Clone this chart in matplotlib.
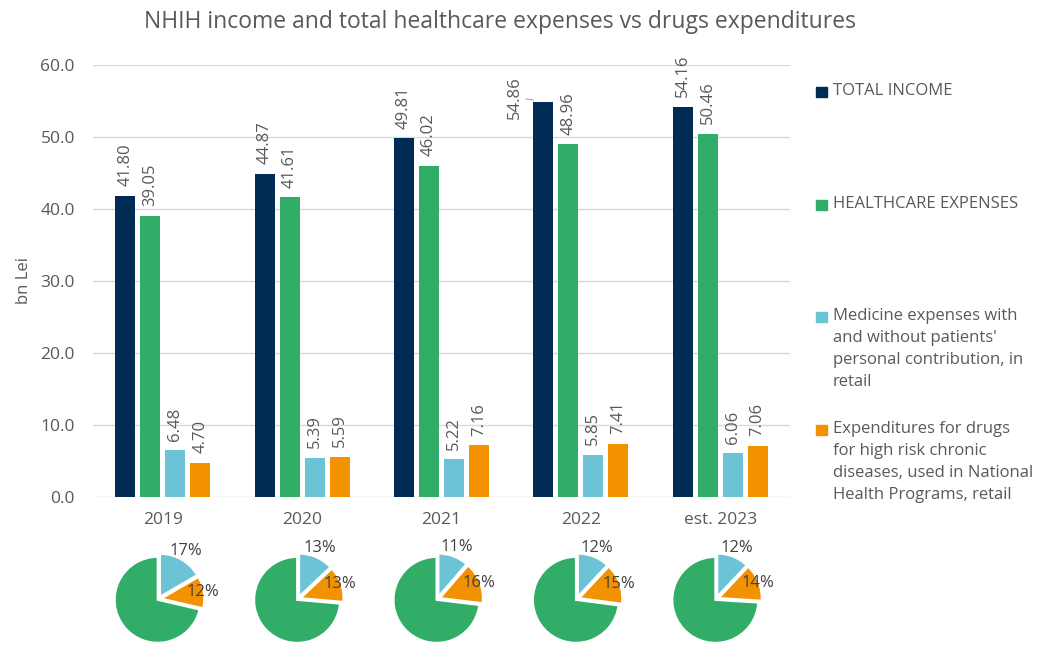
import numpy as np
import matplotlib.pyplot as plt
from matplotlib.patches import Rectangle

plt.rcParams['font.family'] = ['Open Sans', 'DejaVu Sans']

years = ['2019', '2020', '2021', '2022', 'est. 2023']
total_income = [41.80, 44.87, 49.81, 54.86, 54.16]
healthcare = [39.05, 41.61, 46.02, 48.96, 50.46]
medicine = [6.48, 5.39, 5.22, 5.85, 6.06]
drugs_chronic = [4.70, 5.59, 7.16, 7.41, 7.06]

series_names = [
    'TOTAL INCOME',
    'HEALTHCARE EXPENSES',
    "Medicine expenses with\nand without patients'\npersonal contribution, in\nretail",
    'Expenditures for drugs\nfor high risk chronic\ndiseases, used in National\nHealth Programs, retail',
]
colors = ['#002B55', '#31AD68', '#6CC3D5', '#F39200']
grey = '#595959'

W, H = 1047, 646
fig = plt.figure(figsize=(W / 100, H / 100), dpi=100)

def px(x0, y0, w, h):
    # pixel box (top-left origin) -> figure fraction
    return [x0 / W, 1 - (y0 + h) / H, w / W, h / H]

ax = fig.add_axes(px(93, 65, 697, 432))
x = np.arange(len(years))
step, bw = 0.179, 0.1435
data = [total_income, healthcare, medicine, drugs_chronic]
for k, vals in enumerate(data):
    off = (k - 1.5) * step
    bars = ax.bar(x + off, vals, bw, color=colors[k], zorder=3)
    for i, (b, v) in enumerate(zip(bars, vals)):
        if k == 0 and i == 3:
            # excel nudged this one to the left of its bar, with a leader line
            ax.annotate(f'{v:.2f}', (b.get_x(), v + 0.3), xytext=(-13, -14),
                        textcoords='offset points', rotation=90, ha='center',
                        va='bottom', fontsize=12, color=grey,
                        arrowprops=dict(arrowstyle='-', color='#A6A6A6', lw=0.8,
                                        shrinkA=0, shrinkB=0))
            continue
        ax.annotate(f'{v:.2f}', (b.get_x() + bw / 2, v), xytext=(0, 7),
                    textcoords='offset points', rotation=90, ha='center',
                    va='bottom', fontsize=12, color=grey)

ax.set_xlim(-0.5, len(years) - 0.5)
ax.set_ylim(0, 60)
ax.set_yticks(np.arange(0, 61, 10))
ax.set_yticklabels([f'{v:.1f}' for v in np.arange(0, 61, 10)])
ax.set_xticks(x)
ax.set_xticklabels(years)
ax.tick_params(length=0, labelsize=12.5, colors=grey)
ax.tick_params(axis='y', pad=13)
ax.tick_params(axis='x', pad=11)
ax.grid(axis='y', color='#D9D9D9', lw=1, zorder=0)
for s in ax.spines.values():
    s.set_visible(False)
ax.set_ylabel('bn Lei', fontsize=12, color=grey, labelpad=6)

fig.text(0.478, 1 - 22 / H, 'NHIH income and total healthcare expenses vs drugs expenditures',
         ha='center', va='center', fontsize=16.5, color=grey)

# legend drawn by hand to keep Excel-like spacing
for k, name in enumerate(series_names):
    ytop = 90 + 112.7 * k
    fig.patches.append(Rectangle((816 / W, 1 - (ytop + 7) / H), 11 / W, 10 / H,
                                 transform=fig.transFigure, color=colors[k]))
    fig.text(833 / W, 1 - (ytop - 7) / H, name, ha='left', va='top',
             fontsize=12, color=grey, linespacing=1.5)

# share pies under each year
fig.canvas.draw()
inv = fig.transFigure.inverted()
R = 43
for i in range(len(years)):
    blue = medicine[i] / healthcare[i]
    orng = drugs_chronic[i] / healthcare[i]
    fx = inv.transform(ax.transData.transform((i, 0)))[0] * W
    pax = fig.add_axes(px(fx - 4 - 55, 599 - 55, 110, 110))
    wedges, _ = pax.pie([blue, orng, 1 - blue - orng], colors=[colors[2], colors[3], colors[1]],
                        startangle=90, counterclock=False, explode=[0.06, 0.06, 0.03],
                        wedgeprops=dict(edgecolor='white', linewidth=1.5))
    pax.set_xlim(-55 / R, 55 / R)
    pax.set_ylim(-55 / R, 55 / R)
    pax.set_aspect('equal')
    pax.axis('off')
    for w, frac, dist in zip(wedges[:2], [blue, orng], [1.22, 0.98]):
        th = np.radians((w.theta1 + w.theta2) / 2)
        cx, cy = w.center
        pax.text(cx + dist * np.cos(th), cy + dist * np.sin(th), f'{frac:.0%}',
                 ha='center', va='center', fontsize=12, color='#404040')

fig.savefig('out.png', dpi=100)
